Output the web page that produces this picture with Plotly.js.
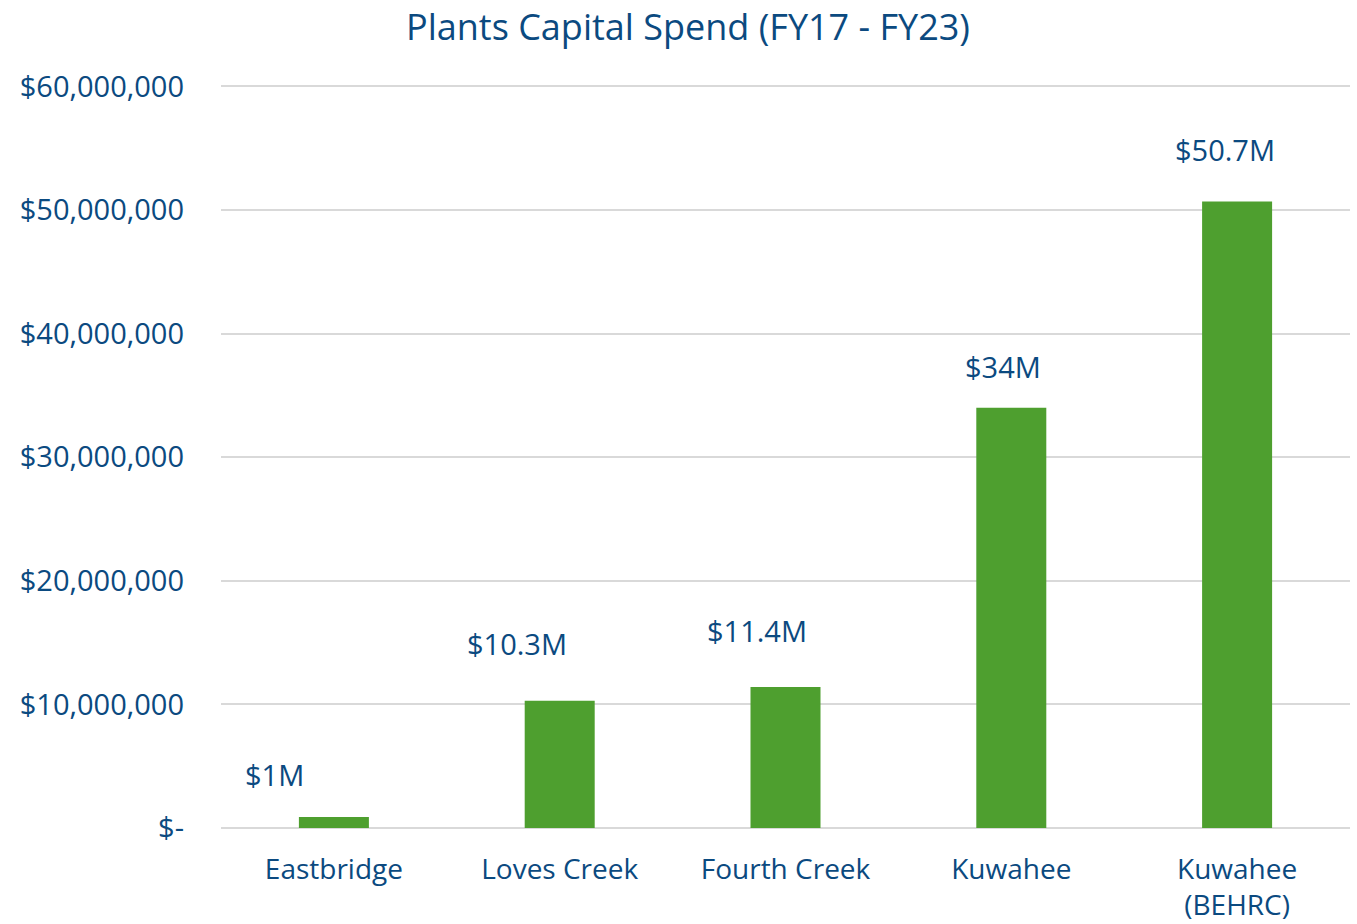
<!DOCTYPE html>
<html>
<head>
<meta charset="utf-8">
<script src="https://cdn.plot.ly/plotly-3.0.1.min.js"></script>
<style>html,body{margin:0;padding:0;background:#fff;}#chart{width:1357px;height:924px;}</style>
</head>
<body>
<div id="chart"></div>
<script>
const categories = ["Eastbridge", "Loves Creek", "Fourth Creek", "Kuwahee", "Kuwahee<br>(BEHRC)"];
const spend = [900000, 10300000, 11400000, 34000000, 50700000];
const valueLabels = ["$1M", "$10.3M", "$11.4M", "$34M", "$50.7M"];
const tickValues = [0, 10000000, 20000000, 30000000, 40000000, 50000000, 60000000];
const tickLabels = ["$-", "$10,000,000", "$20,000,000", "$30,000,000", "$40,000,000", "$50,000,000", "$60,000,000"];

// label placement offsets (px), styling only
const labelDx = [-59, -43, -29, -8, -12];
const labelDy = [42, 57, 57, 41, 52];

const textColor = "#0B4A80";
const fontFam = "'Open Sans', sans-serif";

const annotations = categories.map((c, i) => ({
  x: c, y: spend[i], xref: "x", yref: "y",
  text: valueLabels[i], showarrow: false,
  xanchor: "center", yanchor: "middle",
  xshift: labelDx[i], yshift: labelDy[i],
  font: {family: fontFam, size: 29, color: textColor}
}));

const data = [{
  type: "bar", x: categories, y: spend,
  marker: {color: "#4E9F2F"},
  hoverinfo: "none"
}];

const layout = {
  width: 1357, height: 924,
  margin: {l: 221, r: 7, t: 84, b: 96},
  paper_bgcolor: "#fff", plot_bgcolor: "#fff",
  bargap: 0.69,
  showlegend: false,
  title: {text: "Plants Capital Spend (FY17 - FY23)", x: 688/1357, xref: "container", xanchor: "center", y: 1 - 27/924, yref: "container", yanchor: "middle",
          font: {family: fontFam, size: 36, color: textColor}},
  xaxis: {type: "category", showgrid: false, zeroline: false, showline: false, ticks: "", ticklabelstandoff: 22,
          tickfont: {family: fontFam, size: 28, color: textColor}},
  yaxis: {range: [0, 60200000], tickvals: tickValues, ticktext: tickLabels,
          showgrid: true, gridcolor: "#D9D9D9", gridwidth: 2, zeroline: true, zerolinecolor: "#D9D9D9", zerolinewidth: 2,
          showline: false, ticks: "", ticklabelstandoff: 36,
          tickfont: {family: fontFam, size: 29, color: textColor}},
  annotations: annotations
};

Plotly.newPlot("chart", data, layout, {displayModeBar: false, staticPlot: true});
</script>
</body>
</html>
